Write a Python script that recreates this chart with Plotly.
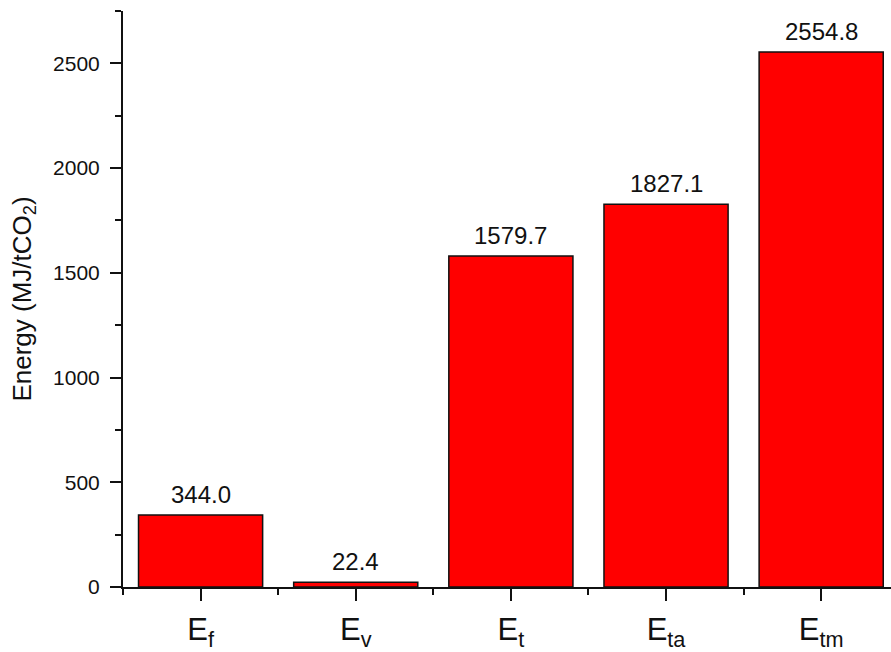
import plotly.graph_objects as go

# Energy components per tonne of captured CO2
categories = ["E<sub>f</sub>", "E<sub>v</sub>", "E<sub>t</sub>", "E<sub>ta</sub>", "E<sub>tm</sub>"]
energy = [344.0, 22.4, 1579.7, 1827.1, 2554.8]
y_ticks = [0, 500, 1000, 1500, 2000, 2500]

positions = list(range(len(categories)))
font_family = "Liberation Sans, Arial, sans-serif"

fig = go.Figure()
fig.add_trace(go.Bar(
    x=positions,
    y=energy,
    width=0.8,
    marker=dict(color="#ff0000", line=dict(color="#111111", width=1.5)),
    hoverinfo="skip",
))

# value labels above each bar
for xi, v in zip(positions, energy):
    fig.add_annotation(
        x=xi, y=v, text=f"{v:.1f}", showarrow=False,
        yanchor="bottom", yshift=5,
        font=dict(family=font_family, size=24, color="#111111"),
    )

fig.update_layout(
    width=891, height=652,
    margin=dict(l=123, r=0, t=11, b=63),
    paper_bgcolor="white", plot_bgcolor="white",
    showlegend=False,
    font=dict(family=font_family, color="#111111"),
)

fig.update_xaxes(
    range=[-0.5, 4.45],
    tickvals=positions, ticktext=categories,
    ticks="outside", ticklen=12, tickwidth=2, tickcolor="#111111",
    minor=dict(ticks="outside", ticklen=6, tickwidth=2, tickcolor="#111111",
               tick0=0.5, dtick=1, showgrid=False),
    showline=True, linewidth=2, linecolor="#111111",
    showgrid=False, zeroline=False,
    tickfont=dict(size=31, family=font_family),
    ticklabelstandoff=2,
)

fig.update_yaxes(
    range=[0, 2750],
    tickvals=y_ticks,
    ticks="outside", ticklen=11, tickwidth=2, tickcolor="#111111",
    minor=dict(ticks="outside", ticklen=6, tickwidth=2, tickcolor="#111111",
               tick0=250, dtick=500, showgrid=False),
    showline=True, linewidth=2, linecolor="#111111",
    showgrid=False, zeroline=False,
    tickfont=dict(size=21, family=font_family),
    ticklabelstandoff=6,
    title=dict(text="Energy (MJ/tCO<sub>2</sub>)", font=dict(size=26, family=font_family), standoff=14),
)

fig.write_html("out.html")
